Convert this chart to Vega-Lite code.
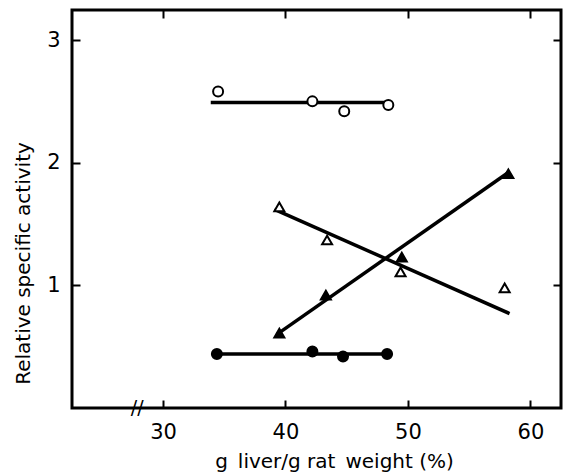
{
  "$schema": "https://vega.github.io/schema/vega-lite/v6.json",
  "width": 489,
  "height": 398,
  "autosize": {"type": "none"},
  "padding": {"left": 72, "top": 10, "right": 4, "bottom": 68},
  "background": "white",
  "config": {
    "view": {"stroke": "black", "strokeWidth": 3},
    "font": "DejaVu Sans"
  },
  "datasets": {
    "points": [
      {"series": "oc", "x": 34.5, "y": 2.58},
      {"series": "oc", "x": 42.2, "y": 2.50},
      {"series": "oc", "x": 44.8, "y": 2.42},
      {"series": "oc", "x": 48.4, "y": 2.47},
      {"series": "fc", "x": 34.4, "y": 0.44},
      {"series": "fc", "x": 42.2, "y": 0.46},
      {"series": "fc", "x": 44.7, "y": 0.42},
      {"series": "fc", "x": 48.3, "y": 0.44},
      {"series": "ot", "x": 39.5, "y": 1.64},
      {"series": "ot", "x": 43.4, "y": 1.37},
      {"series": "ot", "x": 49.4, "y": 1.11},
      {"series": "ot", "x": 57.9, "y": 0.98},
      {"series": "ft", "x": 39.5, "y": 0.61},
      {"series": "ft", "x": 43.3, "y": 0.92},
      {"series": "ft", "x": 49.5, "y": 1.23},
      {"series": "ft", "x": 58.2, "y": 1.91}
    ],
    "lines": [
      {"series": "oc", "x": 33.9, "y": 2.49},
      {"series": "oc", "x": 48.4, "y": 2.49},
      {"series": "fc", "x": 34.4, "y": 0.44},
      {"series": "fc", "x": 48.3, "y": 0.44},
      {"series": "ot", "x": 39.1, "y": 1.62},
      {"series": "ot", "x": 58.3, "y": 0.77},
      {"series": "ft", "x": 39.3, "y": 0.60},
      {"series": "ft", "x": 58.2, "y": 1.92}
    ],
    "brk": [{"x": 27.9, "y": 0, "t": "//"}]
  },
  "resolve": {"axis": {"x": "independent", "y": "independent"}},
  "layer": [
    {
      "data": {"name": "lines"},
      "mark": {"type": "line", "stroke": "black", "strokeWidth": 3.5},
      "encoding": {
        "x": {
          "field": "x", "type": "quantitative",
          "scale": {"domain": [22.57, 62.5], "nice": false, "zero": false},
          "axis": {
            "orient": "bottom", "values": [30, 40, 50, 60], "tickSize": -8, "tickWidth": 2,
            "tickColor": "black", "domain": false, "grid": false,
            "labelFontSize": 21, "labelColor": "black", "labelPadding": 21,
            "title": "g\u2002liver/g rat\u2002weight (%)", "titleFontSize": 20, "titleFontWeight": "normal",
            "titleColor": "black", "titleX": 262, "titleY": 53, "titleBaseline": "middle"
          }
        },
        "y": {
          "field": "y", "type": "quantitative",
          "scale": {"domain": [0, 3.245], "nice": false, "zero": false},
          "axis": {
            "orient": "left", "values": [1, 2, 3], "tickSize": -8, "tickWidth": 2,
            "tickColor": "black", "domain": false, "grid": false,
            "labelFontSize": 21, "labelColor": "black", "labelPadding": 20,
            "title": "Relative specific activity", "titleFontSize": 20, "titleFontWeight": "normal",
            "titleColor": "black", "titleX": -49, "titleY": 253, "titleBaseline": "middle"
          }
        },
        "detail": {"field": "series"}
      }
    },
    {
      "data": {"name": "points"},
      "mark": {"type": "point", "filled": true, "stroke": "black", "strokeWidth": 2, "opacity": 1},
      "encoding": {
        "x": {"field": "x", "type": "quantitative", "axis": null},
        "y": {"field": "y", "type": "quantitative", "axis": null},
        "shape": {
          "field": "series", "type": "nominal", "legend": null,
          "scale": {"domain": ["oc", "fc", "ot", "ft"], "range": ["circle", "circle", "triangle-up", "triangle-up"]}
        },
        "fill": {
          "field": "series", "type": "nominal", "legend": null,
          "scale": {"domain": ["oc", "fc", "ot", "ft"], "range": ["white", "black", "white", "black"]}
        },
        "size": {
          "field": "series", "type": "ordinal", "legend": null,
          "scale": {"domain": ["oc", "fc", "ot", "ft"], "range": [100, 100, 150, 150]}
        }
      }
    },
    {
      "data": {"name": "brk"},
      "mark": {"type": "text", "fontSize": 19, "color": "black", "baseline": "middle", "align": "center"},
      "encoding": {
        "x": {
          "field": "x", "type": "quantitative",
          "axis": {
            "orient": "top", "values": [30, 40, 50, 60], "tickSize": -8, "tickWidth": 2,
            "tickColor": "black", "domain": false, "grid": false, "labels": false, "title": null
          }
        },
        "y": {
          "field": "y", "type": "quantitative",
          "axis": {
            "orient": "right", "values": [1, 2, 3], "tickSize": -8, "tickWidth": 2,
            "tickColor": "black", "domain": false, "grid": false, "labels": false, "title": null
          }
        },
        "text": {"field": "t"}
      }
    }
  ]
}
